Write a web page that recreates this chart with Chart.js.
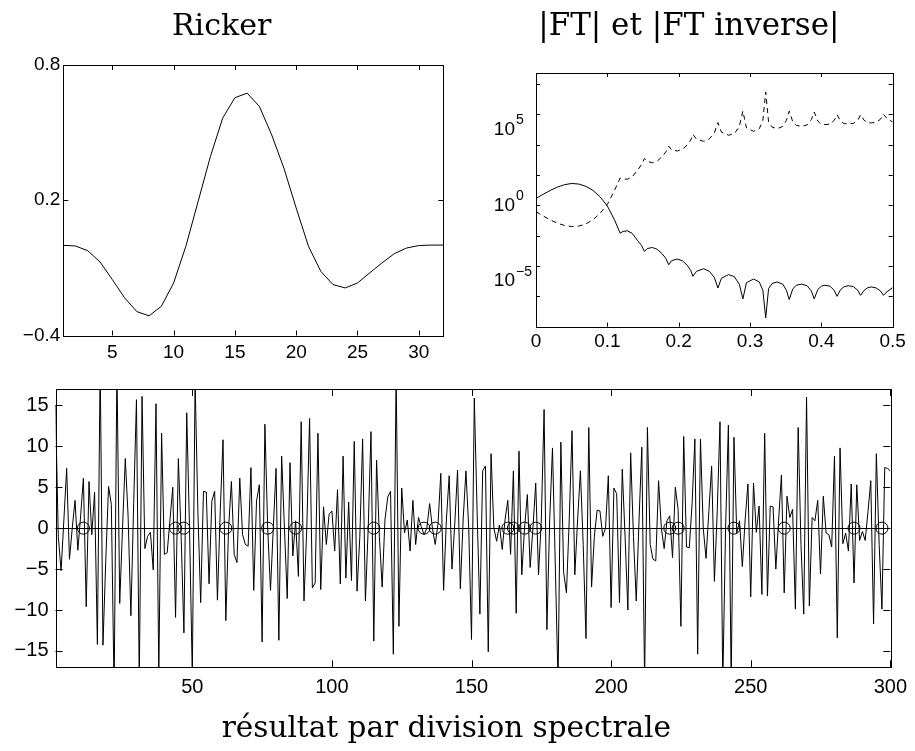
<!DOCTYPE html>
<html lang="fr">
<head>
<meta charset="utf-8">
<title>Déconvolution par division spectrale</title>
<script src="https://cdn.jsdelivr.net/npm/chart.js@4.4.1/dist/chart.umd.min.js"></script>
<style>
  html, body { margin: 0; padding: 0; background: #fff; }
  body { position: relative; width: 915px; height: 751px; overflow: hidden; }
  canvas { position: absolute; }
  #ricker { left: 0; top: 0; }
  #spectre { left: 485px; top: 0; }
  #resultat { left: 0; top: 370px; }
</style>
</head>
<body>
<canvas id="ricker" width="468" height="380"></canvas>
<canvas id="spectre" width="430" height="370"></canvas>
<canvas id="resultat" width="915" height="381"></canvas>
<script>
(function () {

/* ----------- données ----------- */

// ondelette de Ricker, 32 échantillons
const rickerT = [1,2,3,4,5,6,7,8,9,10,11,12,13,14,15,16,17,18,19,20,21,22,23,24,25,26,27,28,29,30,31,32];
const rickerAmp = [0.0,-0.003,-0.024,-0.074,-0.152,-0.233,-0.294,-0.313,-0.270,-0.167,-0.004,0.195,
  0.394,0.564,0.655,0.675,0.616,0.490,0.342,0.165,-0.004,-0.115,-0.174,-0.189,-0.167,-0.122,
  -0.078,-0.037,-0.012,-0.001,0.001,0.001];
const rickerXTicks = [5,10,15,20,25,30];
const rickerYTicks = [-0.4,0.2,0.8];

// |FT| et |FT inverse| (exposants en base 10)
const ftFreq = [0,0.01,0.02,0.03,0.04,0.05,0.06,0.07,0.08,0.09,0.10,0.11,
  0.118,0.122,0.128,0.135,0.142,0.148,0.152,0.156,0.163,0.170,0.177,0.182,
  0.186,0.190,0.198,0.205,0.212,0.217,0.220,0.225,0.235,0.243,0.250,0.255,
  0.260,0.270,0.278,0.285,0.290,0.295,0.305,0.313,0.318,0.322,0.326,0.331,
  0.338,0.346,0.351,0.355,0.360,0.365,0.372,0.380,0.386,0.390,0.395,0.400,
  0.405,0.412,0.418,0.422,0.427,0.432,0.438,0.445,0.451,0.455,0.460,0.465,
  0.470,0.477,0.483,0.487,0.492,0.500];
const ftLog = [0.46,0.72,0.98,1.20,1.36,1.44,1.40,1.25,0.98,0.55,-0.04,-0.96,
  -1.84,-1.72,-1.68,-1.85,-2.30,-2.65,-3.04,-2.85,-2.78,-2.90,-3.20,-3.50,
  -3.92,-3.65,-3.54,-3.65,-3.95,-4.30,-4.68,-4.35,-4.18,-4.35,-4.75,-5.45,
  -4.80,-4.57,-4.70,-5.20,-6.17,-5.10,-4.86,-5.05,-5.60,-7.42,-5.50,-5.15,
  -5.05,-5.20,-5.60,-6.21,-5.50,-5.27,-5.19,-5.30,-5.65,-6.17,-5.55,-5.33,
  -5.27,-5.33,-5.60,-6.00,-5.55,-5.36,-5.30,-5.36,-5.60,-5.93,-5.60,-5.43,
  -5.38,-5.45,-5.65,-5.93,-5.70,-5.42];
const ftInvLog = [-0.42,-0.70,-0.96,-1.18,-1.33,-1.40,-1.37,-1.22,-0.95,-0.52,0.06,0.98,
  1.80,1.74,1.72,1.88,2.30,2.68,3.09,2.90,2.80,2.92,3.22,3.52,
  3.90,3.66,3.58,3.68,3.98,4.30,4.68,4.35,4.22,4.38,4.78,5.45,
  4.82,4.62,4.72,5.20,6.21,5.10,4.88,5.05,5.60,7.46,5.50,5.15,
  5.05,5.20,5.60,6.21,5.50,5.27,5.20,5.30,5.65,6.15,5.55,5.33,
  5.32,5.35,5.60,5.97,5.55,5.38,5.38,5.40,5.60,5.97,5.60,5.45,
  5.43,5.48,5.68,6.00,5.72,5.49];
const ftXTicks = [0,0.1,0.2,0.3,0.4,0.5];
const ftDecades = [-8,-7,-6,-5,-4,-3,-2,-1,0,1,2,3,4,5,6,7,8];
const ftLabelled = [-5,0,5];

// signal obtenu par division spectrale, 300 échantillons
const resultat = [
  15,-1,-5.2,1,7.3,-3.8,0,3.4,-2.7,1.5,6.1,-9.6,5.7,-0.8,4.4,-14.2,20,-14.3,-4,5.1,
  2.9,-20,20,-9.2,0,8.5,1.5,-10.7,3,15.7,-19,16.1,-2.5,-1,-0.5,-5.1,15.2,-18,11.6,-3.2,
  -3,1,5,-10.9,8.5,-1,-12.8,14.1,0,-18,18,2,-9.1,4.5,4.4,-6.8,3.3,4.5,-8.8,2,
  10.8,-11.3,0,5.7,-3.2,-4.2,6.1,-0.8,-2,-2.2,7.4,-7.6,3.3,5.3,-13.9,12.7,0,-7.6,0,7.3,
  -13.7,8.8,0,-8.6,8,-3.4,0.9,-5.9,13,-8.9,0,13.4,-7.3,-6.7,11.6,-7.5,2.6,-2,1.7,2.1,
  -2.8,4.7,-6.8,8.8,-6.1,3.2,-6.4,10.6,-7.7,-1,10.9,-8.9,0,11.8,-13.8,8.3,-1,-7.2,1,3.8,
  4.5,-15.4,19,-12,4.9,-0.6,1,-2.8,3.4,-2,1.3,0.2,-0.8,0,3,0,-2,0.5,6.7,-7.6,
  1,6.4,-5,0.5,7.1,-7.4,1,7,0,-13.6,15.9,2,-10.5,7,7.6,-15.1,9.1,0,-1.6,0.4,
  -2.6,1,3.4,-3.2,7,-10.4,9.4,-5.7,0,4.1,-4.8,0,5.5,-5.7,1,14.5,-12.4,1,9.8,-4.4,
  -19,10.5,-5.4,-7.9,1,11.9,-5.7,1,7,-2,-13.5,12.3,-7.2,-1,2.2,2.1,-1,0,6.4,-9.7,
  4.9,4.2,-9.1,7.2,-1,-10,9.2,-1,-8.9,1,9.9,-19,12.3,-2,-3.8,-4,5.8,0,-2.5,0.9,
  1.5,-3.6,5,2.3,-12,11.2,-2.3,-2.4,3,10.9,-15.4,10.9,0,-3.7,2,7.6,-6.5,2,13,-19,
  0,12.6,-19,11.1,-0.6,0.9,-4.7,1,5.4,-8.4,5.5,-0.5,2.7,-8.1,11.6,-8.3,2.7,2.6,-5,1,
  6.5,-7.9,3.9,1.3,2.3,-9.9,12.3,-2,-10.5,16,-9.5,1.3,0.9,3.4,-5.6,3.9,-0.6,-0.8,-2.3,8.8,
  -13.4,9.8,-1.9,-0.6,-2.8,5.4,-6.7,5.3,-1.5,-0.4,-1.5,2,5.8,-11.7,9.1,-2,-9.9,7.4,7.3,7
];
// positions des réflecteurs (cercles sur l'axe zéro)
const pics = [11,44,47,62,77,87,115,133,137,163,165,169,173,221,224,244,262,287,297];
const resXTicks = [50,100,150,200,250,300];
const resYTicks = [-15,-10,-5,0,5,10,15];

/* ----------- réglages communs ----------- */

Chart.defaults.font.family = '"Liberation Sans", Arial, sans-serif';
Chart.defaults.color = '#000';
Chart.defaults.animation = false;

const serif = {family: '"DejaVu Serif", serif', size: 30, weight: 'normal'};
const noGrid = {display: false, drawTicks: false};

function fixedTicks(values){
  return scale => { scale.ticks = values.map(v => ({value: v})); };
}
function fmt(v){
  return v < 0 ? '\u2212' + String(-v) : String(v);
}

/* ----------- cadre et graduations intérieures ----------- */

const cadre = {
  id: 'cadre',
  afterDraw(chart, args, opts){
    const {ctx, chartArea: a, scales: {x, y}} = chart;
    const len = opts.tick || 5;
    ctx.save();
    ctx.strokeStyle = '#000';
    ctx.lineWidth = 1;
    ctx.strokeRect(Math.round(a.left) + 0.5, Math.round(a.top) + 0.5,
      Math.round(a.right - a.left), Math.round(a.bottom - a.top));
    ctx.beginPath();
    x.ticks.forEach(t => {
      const px = Math.round(x.getPixelForValue(t.value)) + 0.5;
      ctx.moveTo(px, a.bottom); ctx.lineTo(px, a.bottom - len);
      ctx.moveTo(px, a.top); ctx.lineTo(px, a.top + len);
    });
    y.ticks.forEach(t => {
      const py = Math.round(y.getPixelForValue(t.value)) + 0.5;
      ctx.moveTo(a.left, py); ctx.lineTo(a.left + len, py);
      ctx.moveTo(a.right, py); ctx.lineTo(a.right - len, py);
    });
    ctx.stroke();
    ctx.restore();
  }
};

/* ----------- étiquettes 10^n de l'axe log ----------- */

const puissances = {
  id: 'puissances',
  afterDraw(chart){
    const {ctx, chartArea: a, scales: {y}} = chart;
    const xr = a.left - 21;
    ctx.save();
    ctx.fillStyle = '#000';
    ftLabelled.forEach(e => {
      const py = y.getPixelForValue(Math.pow(10, e));
      ctx.font = '19px "Liberation Sans", Arial, sans-serif';
      ctx.textAlign = 'right';
      ctx.textBaseline = 'middle';
      ctx.fillText('10', xr, py);
      ctx.font = '14px "Liberation Sans", Arial, sans-serif';
      ctx.textAlign = 'left';
      ctx.fillText(e < 0 ? '\u2212' + (-e) : String(e), xr + 1, py - 9);
    });
    ctx.restore();
  }
};

const noLegend = {legend: {display: false}, tooltip: {enabled: false}};

/* ----------- Ricker ----------- */

new Chart(document.getElementById('ricker'), {
  type: 'line',
  data: {
    datasets: [{
      data: rickerT.map((t, i) => ({x: t, y: rickerAmp[i]})),
      borderColor: '#000', borderWidth: 1, pointRadius: 0, tension: 0
    }]
  },
  options: {
    responsive: false,
    layout: {padding: {left: 0, right: 24.7, top: 0, bottom: 0}},
    scales: {
      x: {
        type: 'linear', min: 1, max: 32,
        afterBuildTicks: fixedTicks(rickerXTicks),
        afterFit: s => { s.height = 44.5; },
        grid: noGrid, border: {display: false},
        ticks: {autoSkip: false, maxRotation: 0, padding: 6, font: {size: 19}, callback: fmt}
      },
      y: {
        type: 'linear', min: -0.4, max: 0.8,
        afterBuildTicks: fixedTicks(rickerYTicks),
        afterFit: s => { s.width = 63.3; },
        grid: noGrid, border: {display: false},
        ticks: {padding: 3, font: {size: 19}, callback: fmt}
      }
    },
    plugins: Object.assign({
      title: {display: true, text: 'Ricker', font: serif, color: '#000', padding: {top: 9, bottom: 20}},
      cadre: {tick: 5}
    }, noLegend)
  },
  plugins: [cadre]
});

/* ----------- |FT| et |FT inverse| ----------- */

new Chart(document.getElementById('spectre'), {
  type: 'line',
  data: {
    datasets: [{
      data: ftFreq.map((f, i) => ({x: f, y: Math.pow(10, ftLog[i])})),
      borderColor: '#000', borderWidth: 1, pointRadius: 0, tension: 0
    }, {
      data: ftFreq.map((f, i) => ({x: f, y: Math.pow(10, ftInvLog[i])})),
      borderColor: '#000', borderWidth: 1, borderDash: [5, 4], pointRadius: 0, tension: 0
    }]
  },
  options: {
    responsive: false,
    layout: {padding: {left: 0, right: 22.3, top: 0, bottom: 0}},
    scales: {
      x: {
        type: 'linear', min: 0, max: 0.5,
        afterBuildTicks: fixedTicks(ftXTicks),
        afterFit: s => { s.height = 43.3; },
        grid: noGrid, border: {display: false},
        ticks: {autoSkip: false, maxRotation: 0, padding: 4, font: {size: 19}, callback: v => String(v)}
      },
      y: {
        type: 'logarithmic', min: 1e-8, max: Math.pow(10, 8.72),
        afterBuildTicks: scale => { scale.ticks = ftDecades.map(e => ({value: Math.pow(10, e)})); },
        afterFit: s => { s.width = 51; },
        grid: noGrid, border: {display: false},
        ticks: {callback: () => ''}
      }
    },
    plugins: Object.assign({
      title: {display: true, text: '|FT| et |FT inverse|', font: {family: '"DejaVu Serif", serif', size: 31, weight: 'normal'},
        color: '#000', padding: {top: 8.5, bottom: 27.3}},
      cadre: {tick: 4}
    }, noLegend)
  },
  plugins: [cadre, puissances]
});

/* ----------- résultat par division spectrale ----------- */

new Chart(document.getElementById('resultat'), {
  type: 'line',
  data: {
    datasets: [{
      data: resultat.map((v, i) => ({x: i + 1, y: v})),
      borderColor: '#000', borderWidth: 1, pointRadius: 0, tension: 0
    }, {
      type: 'scatter',
      data: pics.map(p => ({x: p, y: 0})),
      showLine: false,
      pointStyle: 'circle', pointRadius: 6,
      borderColor: '#000', borderWidth: 1, backgroundColor: 'rgba(0,0,0,0)'
    }]
  },
  options: {
    responsive: false,
    layout: {padding: {left: 0, right: 22.3, top: 18.3, bottom: 0}},
    scales: {
      x: {
        type: 'linear', min: 1, max: 300,
        afterBuildTicks: fixedTicks(resXTicks),
        afterFit: s => { s.height = 36; },
        grid: noGrid, border: {display: false},
        ticks: {autoSkip: false, maxRotation: 0, padding: 8, font: {size: 20}, callback: fmt}
      },
      y: {
        type: 'linear', min: -17, max: 17,
        afterBuildTicks: fixedTicks(resYTicks),
        afterFit: s => { s.width = 55.5; },
        grid: {
          drawTicks: false, lineWidth: 1,
          color: c => (c.tick && c.tick.value === 0 ? '#000' : 'rgba(0,0,0,0)')
        },
        border: {display: false},
        ticks: {padding: 7, font: {size: 20}, callback: fmt}
      }
    },
    plugins: Object.assign({
      title: {
        display: true, position: 'bottom', text: 'résultat par division spectrale',
        font: {family: '"DejaVu Serif", serif', size: 29.5, weight: 'normal'},
        color: '#000', padding: {top: 8.5, bottom: 3.8}
      },
      cadre: {tick: 7}
    }, noLegend)
  },
  plugins: [cadre]
});

})();
</script>
</body>
</html>
